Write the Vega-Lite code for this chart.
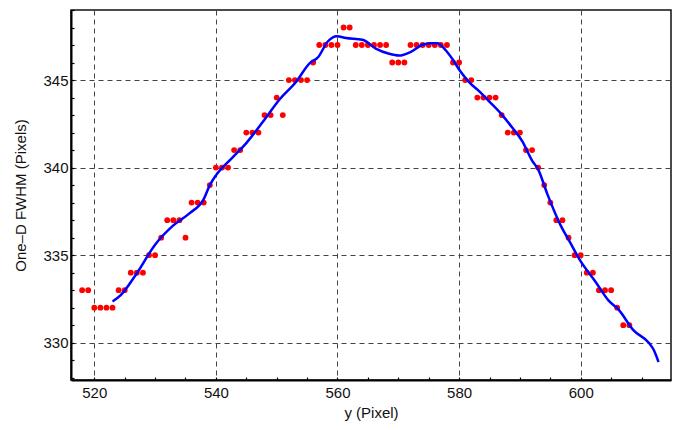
{
  "$schema": "https://vega.github.io/schema/vega-lite/v6.json",
  "width": 600,
  "height": 370,
  "autosize": "none",
  "padding": {"left": 71, "top": 10, "right": 11, "bottom": 50},
  "background": "white",
  "config": {
    "view": {"stroke": "#111", "strokeWidth": 1.5},
    "font": "Liberation Sans",
    "axis": {
      "domainColor": "#000",
      "domainWidth": 2,
      "tickColor": "#000",
      "tickSize": -3,
      "tickWidth": 1.2,
      "labelFontSize": 15,
      "labelColor": "#111",
      "titleFontSize": 15,
      "titleFontWeight": "normal",
      "titleColor": "#111",
      "gridColor": "#444",
      "gridDash": [5, 4],
      "gridWidth": 1,
      "labelOverlap": false,
      "labelFlush": false
    }
  },
  "datasets": {
    "pts": [
      {"x": 518, "fwhm": 333}, {"x": 519, "fwhm": 333},
      {"x": 520, "fwhm": 332}, {"x": 521, "fwhm": 332}, {"x": 522, "fwhm": 332}, {"x": 523, "fwhm": 332},
      {"x": 524, "fwhm": 333}, {"x": 525, "fwhm": 333},
      {"x": 526, "fwhm": 334}, {"x": 527, "fwhm": 334}, {"x": 528, "fwhm": 334},
      {"x": 529, "fwhm": 335}, {"x": 530, "fwhm": 335},
      {"x": 531, "fwhm": 336},
      {"x": 532, "fwhm": 337}, {"x": 533, "fwhm": 337}, {"x": 534, "fwhm": 337},
      {"x": 535, "fwhm": 336},
      {"x": 536, "fwhm": 338}, {"x": 537, "fwhm": 338}, {"x": 538, "fwhm": 338},
      {"x": 539, "fwhm": 339},
      {"x": 540, "fwhm": 340}, {"x": 541, "fwhm": 340}, {"x": 542, "fwhm": 340},
      {"x": 543, "fwhm": 341}, {"x": 544, "fwhm": 341},
      {"x": 545, "fwhm": 342}, {"x": 546, "fwhm": 342}, {"x": 547, "fwhm": 342},
      {"x": 548, "fwhm": 343}, {"x": 549, "fwhm": 343},
      {"x": 550, "fwhm": 344},
      {"x": 551, "fwhm": 343},
      {"x": 552, "fwhm": 345}, {"x": 553, "fwhm": 345}, {"x": 554, "fwhm": 345}, {"x": 555, "fwhm": 345},
      {"x": 556, "fwhm": 346},
      {"x": 557, "fwhm": 347}, {"x": 558, "fwhm": 347}, {"x": 559, "fwhm": 347}, {"x": 560, "fwhm": 347},
      {"x": 561, "fwhm": 348}, {"x": 562, "fwhm": 348},
      {"x": 563, "fwhm": 347}, {"x": 564, "fwhm": 347}, {"x": 565, "fwhm": 347}, {"x": 566, "fwhm": 347}, {"x": 567, "fwhm": 347}, {"x": 568, "fwhm": 347},
      {"x": 569, "fwhm": 346}, {"x": 570, "fwhm": 346}, {"x": 571, "fwhm": 346},
      {"x": 572, "fwhm": 347}, {"x": 573, "fwhm": 347}, {"x": 574, "fwhm": 347}, {"x": 575, "fwhm": 347}, {"x": 576, "fwhm": 347}, {"x": 577, "fwhm": 347}, {"x": 578, "fwhm": 347},
      {"x": 579, "fwhm": 346}, {"x": 580, "fwhm": 346},
      {"x": 581, "fwhm": 345}, {"x": 582, "fwhm": 345},
      {"x": 583, "fwhm": 344}, {"x": 584, "fwhm": 344}, {"x": 585, "fwhm": 344}, {"x": 586, "fwhm": 344},
      {"x": 587, "fwhm": 343},
      {"x": 588, "fwhm": 342}, {"x": 589, "fwhm": 342}, {"x": 590, "fwhm": 342},
      {"x": 591, "fwhm": 341}, {"x": 592, "fwhm": 341},
      {"x": 593, "fwhm": 340},
      {"x": 594, "fwhm": 339},
      {"x": 595, "fwhm": 338},
      {"x": 596, "fwhm": 337}, {"x": 597, "fwhm": 337},
      {"x": 598, "fwhm": 336},
      {"x": 599, "fwhm": 335}, {"x": 600, "fwhm": 335},
      {"x": 601, "fwhm": 334}, {"x": 602, "fwhm": 334},
      {"x": 603, "fwhm": 333}, {"x": 604, "fwhm": 333}, {"x": 605, "fwhm": 333},
      {"x": 606, "fwhm": 332},
      {"x": 607, "fwhm": 331}, {"x": 608, "fwhm": 331}
    ],
    "fit": [
      {"x": 523.0, "fwhm": 332.35}, {"x": 524.3, "fwhm": 332.7}, {"x": 527.0, "fwhm": 333.97},
      {"x": 530.0, "fwhm": 335.6}, {"x": 533.0, "fwhm": 336.7}, {"x": 535.7, "fwhm": 337.4},
      {"x": 538.0, "fwhm": 338.2}, {"x": 539.0, "fwhm": 339.0}, {"x": 540.1, "fwhm": 339.6},
      {"x": 542.8, "fwhm": 340.6}, {"x": 545.0, "fwhm": 341.4}, {"x": 547.7, "fwhm": 342.6},
      {"x": 550.5, "fwhm": 343.9}, {"x": 553.2, "fwhm": 344.9}, {"x": 555.4, "fwhm": 345.95},
      {"x": 556.8, "fwhm": 346.3}, {"x": 558.4, "fwhm": 347.2}, {"x": 559.9, "fwhm": 347.5},
      {"x": 561.4, "fwhm": 347.4}, {"x": 564.1, "fwhm": 347.3}, {"x": 566.3, "fwhm": 346.8},
      {"x": 568.5, "fwhm": 346.5}, {"x": 570.1, "fwhm": 346.4}, {"x": 572.0, "fwhm": 346.6},
      {"x": 573.9, "fwhm": 347.0}, {"x": 575.3, "fwhm": 347.1}, {"x": 576.4, "fwhm": 347.1},
      {"x": 577.8, "fwhm": 346.7}, {"x": 578.9, "fwhm": 346.2}, {"x": 580.2, "fwhm": 345.5},
      {"x": 581.6, "fwhm": 344.9}, {"x": 583.5, "fwhm": 344.3}, {"x": 584.9, "fwhm": 343.8},
      {"x": 587.1, "fwhm": 343.0}, {"x": 588.7, "fwhm": 342.3}, {"x": 590.4, "fwhm": 341.5},
      {"x": 592.0, "fwhm": 340.4}, {"x": 593.0, "fwhm": 339.9}, {"x": 594.5, "fwhm": 338.5},
      {"x": 596.7, "fwhm": 336.7}, {"x": 598.3, "fwhm": 335.7}, {"x": 599.9, "fwhm": 334.7},
      {"x": 602.4, "fwhm": 333.5}, {"x": 604.6, "fwhm": 332.4}, {"x": 606.2, "fwhm": 331.9},
      {"x": 608.7, "fwhm": 330.7}, {"x": 611.2, "fwhm": 330.0}, {"x": 612.0, "fwhm": 329.6},
      {"x": 612.8, "fwhm": 328.9}
    ]
  },
  "encoding": {
    "x": {
      "field": "x", "type": "quantitative",
      "scale": {"domain": [516.17, 614.85], "nice": false, "zero": false},
      "axis": {
        "title": "y (Pixel)",
        "values": [520, 525, 530, 535, 540, 545, 550, 555, 560, 565, 570, 575, 580, 585, 590, 595, 600, 605, 610],
        "labelExpr": "datum.value % 20 === 0 ? datum.label : ''",
        "gridOpacity": {"condition": {"test": "datum.value % 20 === 0", "value": 1}, "value": 0},
        "labelPadding": 8,
        "titlePadding": 5
      }
    },
    "y": {
      "field": "fwhm", "type": "quantitative",
      "scale": {"domain": [327.87, 349.0], "nice": false, "zero": false},
      "axis": {
        "title": "One–D FWHM (Pixels)",
        "values": [328, 329, 330, 331, 332, 333, 334, 335, 336, 337, 338, 339, 340, 341, 342, 343, 344, 345, 346, 347, 348, 349],
        "labelExpr": "datum.value % 5 === 0 ? datum.label : ''",
        "gridOpacity": {"condition": {"test": "datum.value % 5 === 0", "value": 1}, "value": 0},
        "labelPadding": 6,
        "titlePadding": 14
      }
    }
  },
  "layer": [
    {
      "data": {"name": "pts"},
      "mark": {"type": "circle", "size": 34, "color": "#ff0000", "opacity": 1, "clip": true}
    },
    {
      "data": {"name": "fit"},
      "mark": {"type": "line", "color": "#0000ff", "strokeWidth": 2.5, "interpolate": "monotone", "clip": true}
    }
  ]
}
